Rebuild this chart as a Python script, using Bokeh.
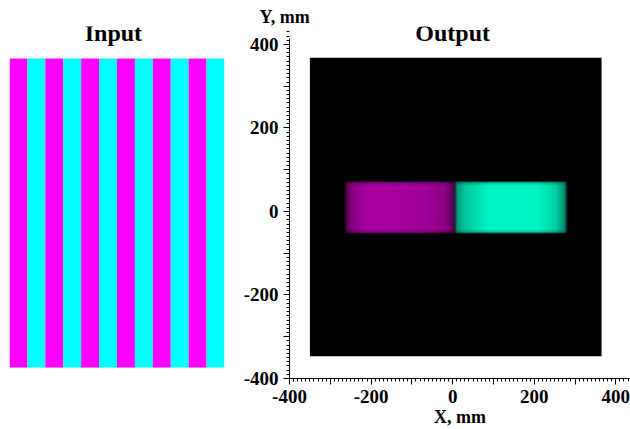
import numpy as np
from bokeh.plotting import figure
from bokeh.layouts import row
from bokeh.models import Label, FixedTicker, Range1d
from bokeh.embed import file_html
from bokeh.resources import INLINE

# ---- data ----
stripe_index = list(range(12))
stripe_colors = ["#FF00FF", "#00FFFF"] * 6

tick_values = [-400, -300, -200, -100, 0, 100, 200, 300, 400]
tick_labels = ["-400", "", "-200", "", "0", "", "200", "", "400"]

screen_box = [-350, 365, -347, 368]          # left, right, bottom, top (mm)
magenta_box = [-260, 0, -50, 68]
cyan_box = [10, 274, -50, 68]
magenta_rgb = (168, 0, 160)
cyan_rgb = (0, 246, 196)

FONT = "Liberation Serif"

# ---- left: input pattern (frame is aligned with the right figure's frame: 26..378 px) ----
pl = figure(width=240, height=429, output_backend="svg", toolbar_location=None,
            x_axis_type=None, y_axis_type=None,
            x_range=Range1d(0, 12), y_range=Range1d(-0.0356, 1.1036),
            min_border_left=9, min_border_right=16, min_border_top=0, min_border_bottom=0)
pl.grid.visible = False
pl.outline_line_color = None
pl.quad(left=stripe_index, right=[i + 1 for i in stripe_index], bottom=0, top=1,
        fill_color=stripe_colors, line_color=None)
pl.add_layout(Label(x=5.8, y=1.082, text="Input", text_font=FONT, text_font_size="24px",
                    text_font_style="bold", text_align="center", text_baseline="alphabetic",
                    text_color="black"))

# ---- right: output ----
pr = figure(width=390, height=429, output_backend="svg", toolbar_location=None,
            x_range=Range1d(-400, 436), y_range=Range1d(-400, 443),
            min_border_left=47, min_border_right=0, min_border_top=26, min_border_bottom=51)
pr.grid.visible = False
pr.outline_line_color = None
pr.title.text = "Y, mm"
pr.title.align = "left"
pr.title.offset = -30
pr.title.standoff = 0
pr.title.text_font = FONT
pr.title.text_font_size = "18px"
pr.title.text_font_style = "bold"
pr.title.text_color = "black"

pr.quad(left=[screen_box[0]], right=[screen_box[1]], bottom=[screen_box[2]], top=[screen_box[3]],
        fill_color="black", line_color=None)


def glow(box, base, hx, hv):
    x0, x1, y0, y1 = box
    pad_x, pad_y = 8.0, 5.0
    nx, ny = 220, 90
    X0, X1, Y0, Y1 = x0 - pad_x, x1 + pad_x, y0 - pad_y, y1 + pad_y
    xs = np.linspace(X0, X1, nx)
    ys = np.linspace(Y0, Y1, ny)
    u = np.clip((xs - x0) / (x1 - x0), 0, 1)
    h = np.interp(u, hx, hv)
    v = np.clip((ys - y0) / (y1 - y0), 0, 1)
    vv = np.interp(v, [0, 0.06, 0.94, 1], [0.8, 1, 1, 0.8])
    dx = np.maximum(np.maximum(x0 - xs, xs - x1), 0) / pad_x
    dy = np.maximum(np.maximum(y0 - ys, ys - y1), 0) / pad_y
    ax = np.clip(1 - dx, 0, 1)
    ay = np.clip(1 - dy, 0, 1)
    shade = vv[:, None] * h[None, :]
    alpha = ay[:, None] * ax[None, :]
    img = np.zeros((ny, nx), dtype=np.uint32)
    view = img.view(dtype=np.uint8).reshape((ny, nx, 4))
    view[..., 0] = np.clip(base[0] * shade, 0, 255).astype(np.uint8)
    view[..., 1] = np.clip(base[1] * shade, 0, 255).astype(np.uint8)
    view[..., 2] = np.clip(base[2] * shade, 0, 255).astype(np.uint8)
    view[..., 3] = np.clip(255 * alpha, 0, 255).astype(np.uint8)
    pr.image_rgba(image=[img], x=X0, y=Y0, dw=X1 - X0, dh=Y1 - Y0)


glow(magenta_box, magenta_rgb, [0, 0.06, 0.2, 0.7, 0.92, 1], [0.55, 0.85, 1.0, 0.97, 0.85, 0.55])
glow(cyan_box, cyan_rgb, [0, 0.08, 0.3, 0.75, 0.92, 1], [0.62, 0.82, 1.0, 1.0, 0.85, 0.58])

ticker = FixedTicker(ticks=tick_values, minor_ticks=list(range(-400, 440, 10)))
overrides = {v: s for v, s in zip(tick_values, tick_labels)}
for ax in (pr.xaxis[0], pr.yaxis[0]):
    ax.ticker = ticker
    ax.major_label_overrides = overrides
    ax.major_label_text_font = FONT
    ax.major_label_text_font_size = "19px"
    ax.major_label_text_font_style = "bold"
    ax.major_label_text_color = "black"
    ax.major_tick_out = 6
    ax.major_tick_in = 0
    ax.minor_tick_out = 3
    ax.minor_tick_in = 0
    ax.axis_line_color = "black"
    ax.major_tick_line_color = "black"
    ax.minor_tick_line_color = "black"
pr.yaxis.bounds = (-400, 414)
pr.xaxis.major_label_standoff = 5
pr.yaxis.major_label_standoff = 5
pr.xaxis.axis_label = "X, mm"
pr.xaxis.axis_label_standoff = 1
pr.xaxis.axis_label_text_font = FONT
pr.xaxis.axis_label_text_font_size = "18px"
pr.xaxis.axis_label_text_font_style = "bold"
pr.xaxis.axis_label_text_color = "black"

pr.add_layout(Label(x=0, y=428, text="Output", text_font=FONT, text_font_size="24px",
                    text_font_style="bold", text_align="center", text_baseline="alphabetic",
                    text_color="black"))

layout = row(pl, pr)
open("out.html", "w").write(file_html(layout, INLINE))
